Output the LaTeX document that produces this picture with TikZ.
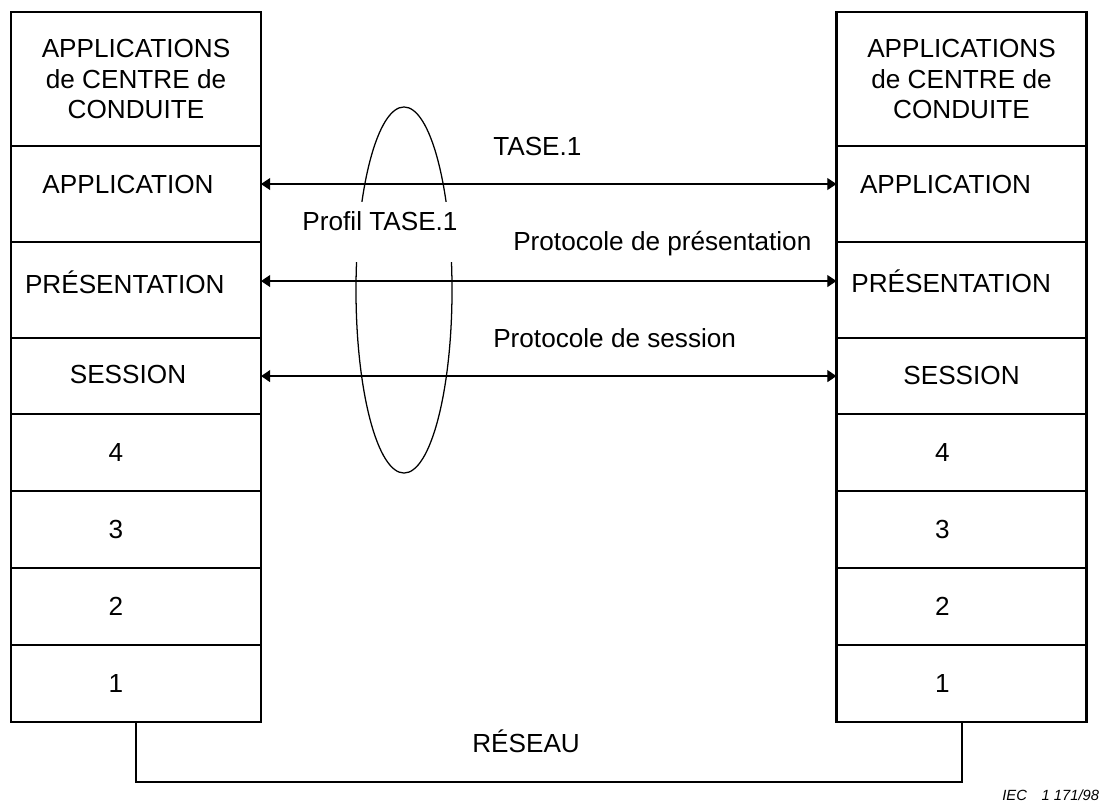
\documentclass[tikz,border=0pt]{standalone}
\usepackage{fontspec}
\setmainfont{Liberation Sans}
\usetikzlibrary{arrows.meta,positioning,shapes.geometric}

\begin{document}
\begin{tikzpicture}[x=0.025cm,y=-0.025cm,
    font=\fontsize{18.6}{22}\selectfont,
    layer/.style={draw,line width=1.6pt,outer sep=0pt,inner sep=0pt,minimum width=6.25cm,minimum height=1.925cm},
    link/.style={line width=0.9pt,{Triangle[length=6.5pt,width=8.5pt]}-{Triangle[length=6.5pt,width=8.5pt]}},
    txt/.style={anchor=base west,inner sep=0pt}]
    \useasboundingbox (0,0) rectangle (1102,810);
    % left stack
    \node[layer,minimum height=3.35cm,align=center] (lapps) at (136,79) {APPLICATIONS\\de CENTRE de\\CONDUITE};
    \node[layer,minimum height=2.4cm,below=0pt of lapps,label={[xshift=-2mm,yshift=2.5mm]center:APPLICATION}] (lapp) {};
    \node[layer,minimum height=2.4cm,below=0pt of lapp,label={[xshift=-2.8mm,yshift=2mm]center:PRÉSENTATION}] (lpres) {};
    \node[layer,minimum height=1.9cm,below=0pt of lpres,label={[xshift=-2mm,yshift=0.5mm]center:SESSION}] (lsess) {};
    \node[layer,below=0pt of lsess,label={[xshift=-5mm]center:4}] (l4) {};
    \node[layer,below=0pt of l4,label={[xshift=-5mm]center:3}] (l3) {};
    \node[layer,below=0pt of l3,label={[xshift=-5mm]center:2}] (l2) {};
    \node[layer,below=0pt of l2,label={[xshift=-5mm]center:1}] (l1) {};
    % right stack
    \node[layer,minimum height=3.35cm,align=center] (rapps) at (961.5,79) {APPLICATIONS\\de CENTRE de\\CONDUITE};
    \node[layer,minimum height=2.4cm,below=0pt of rapps,label={[xshift=-4mm,yshift=2.5mm]center:APPLICATION}] (rapp) {};
    \node[layer,minimum height=2.4cm,below=0pt of rapp,label={[xshift=-2.6mm,yshift=2.2mm]center:PRÉSENTATION}] (rpres) {};
    \node[layer,minimum height=1.9cm,below=0pt of rpres,label={[yshift=0.2mm]center:SESSION}] (rsess) {};
    \node[layer,below=0pt of rsess,label={[xshift=-4.8mm]center:4}] (r4) {};
    \node[layer,below=0pt of r4,label={[xshift=-4.8mm]center:3}] (r3) {};
    \node[layer,below=0pt of r3,label={[xshift=-4.8mm]center:2}] (r2) {};
    \node[layer,below=0pt of r2,label={[xshift=-4.8mm]center:1}] (r1) {};
    % profile
    \node[draw,ellipse,line width=0.9pt,inner sep=0pt,minimum width=2.4cm,minimum height=9.15cm] (prof) at (404,290) {};
    \node[fill=white,inner xsep=2pt,inner ysep=0pt,text height=0.7cm,text depth=0.8cm,anchor=base] (proftxt) at (380,230) {Profil TASE.1};
    % protocols
    \draw[link] ([yshift=2.5mm]lapp.east) -- ([yshift=2.5mm]rapp.west);
    \draw[link] ([yshift=2.25mm]lpres.east) -- ([yshift=2.25mm]rpres.west);
    \draw[link] (lsess.east) -- (rsess.west);
    \node[txt] (tase) at (493,155) {TASE.1};
    \node[txt] (ppres) at (513,250) {Protocole de présentation};
    \node[txt] (psess) at (493,347) {Protocole de session};
    % network
    \draw[line width=1.4pt] (l1.south) -- ++(0,60) -| (r1.south);
    \node[txt] (net) at (472,752) {RÉSEAU};
    \node[txt,font=\fontsize{10.5}{12}\selectfont\itshape] (iec) at (1002,800) {IEC\quad 1 171/98};
\end{tikzpicture}
\end{document}
